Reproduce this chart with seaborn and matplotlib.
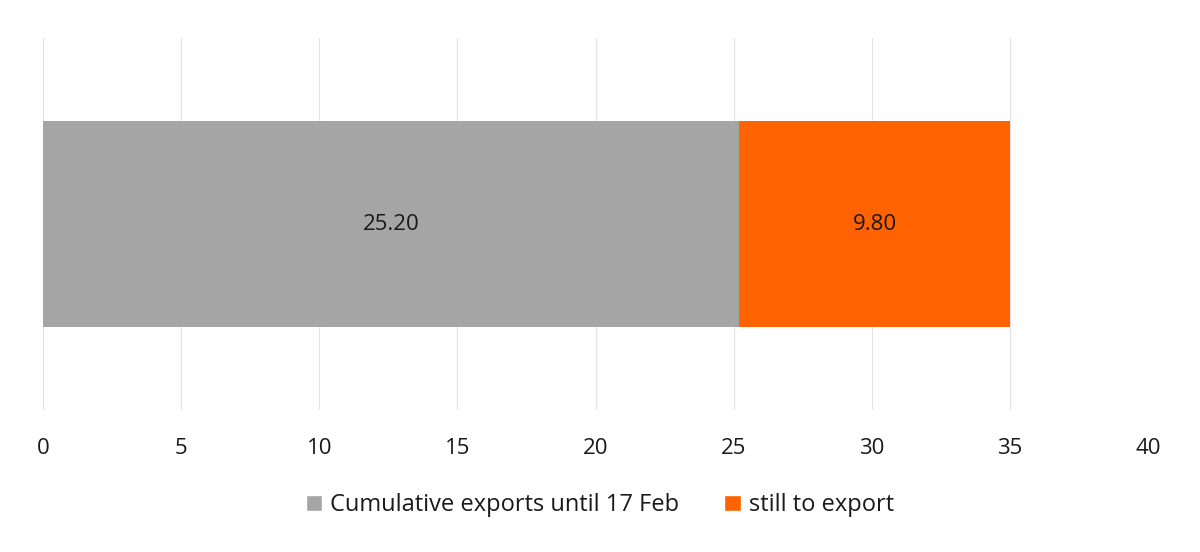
import matplotlib
matplotlib.use("Agg")
import matplotlib.pyplot as plt
import seaborn as sns
import pandas as pd
from matplotlib.patches import Patch

categories = ["Exports"]
series_names = ["Cumulative exports until 17 Feb", "still to export"]
exported = [25.20]
remaining = [9.80]
x_ticks = [0, 5, 10, 15, 20, 25, 30, 35, 40]

colors = ["#A5A5A5", "#FF6200"]

sns.set_theme(style="white")
plt.rcParams['font.family'] = ['Open Sans', 'DejaVu Sans']

fig = plt.figure(figsize=(12, 5.52), dpi=100)
ax = fig.add_axes([0.0358, 0.257, 0.9209, 0.674])

totals = [a + b for a, b in zip(exported, remaining)]
df_total = pd.DataFrame({"cat": categories, "val": totals})
df_exp = pd.DataFrame({"cat": categories, "val": exported})

sns.barplot(data=df_total, x="val", y="cat", orient="h", color=colors[1],
            width=0.555, saturation=1, ax=ax, zorder=3, linewidth=0)
sns.barplot(data=df_exp, x="val", y="cat", orient="h", color=colors[0],
            width=0.555, saturation=1, ax=ax, zorder=3, linewidth=0)

for i, (a, b) in enumerate(zip(exported, remaining)):
    ax.text(a / 2, i, f"{a:.2f}", ha="center", va="center", fontsize=16, color="#1a1a1a", zorder=5)
    ax.text(a + b / 2, i, f"{b:.2f}", ha="center", va="center", fontsize=16, color="#1a1a1a", zorder=5)

ax.set_xlim(0, 40)
ax.set_ylim(0.5, -0.5)
ax.set_xticks(x_ticks)
ax.set_xticklabels([str(t) for t in x_ticks], fontsize=16, color="#1a1a1a")
ax.set_yticks([])
ax.set_xlabel("")
ax.set_ylabel("")
ax.xaxis.grid(True, color="#E3E3E3", linewidth=0.9, zorder=0)
ax.yaxis.grid(False)
ax.tick_params(axis="x", length=0, pad=20)
for s in ax.spines.values():
    s.set_visible(False)

handles = [Patch(facecolor=colors[0], label=series_names[0]),
           Patch(facecolor=colors[1], label=series_names[1])]
fig.legend(handles=handles, loc="center", bbox_to_anchor=(0.5, 0.085), ncol=2,
           frameon=False, fontsize=17, handlelength=0.7, handleheight=0.7,
           handletextpad=0.35, columnspacing=1.9, labelcolor="#1a1a1a")

fig.savefig("out.png", dpi=100)
